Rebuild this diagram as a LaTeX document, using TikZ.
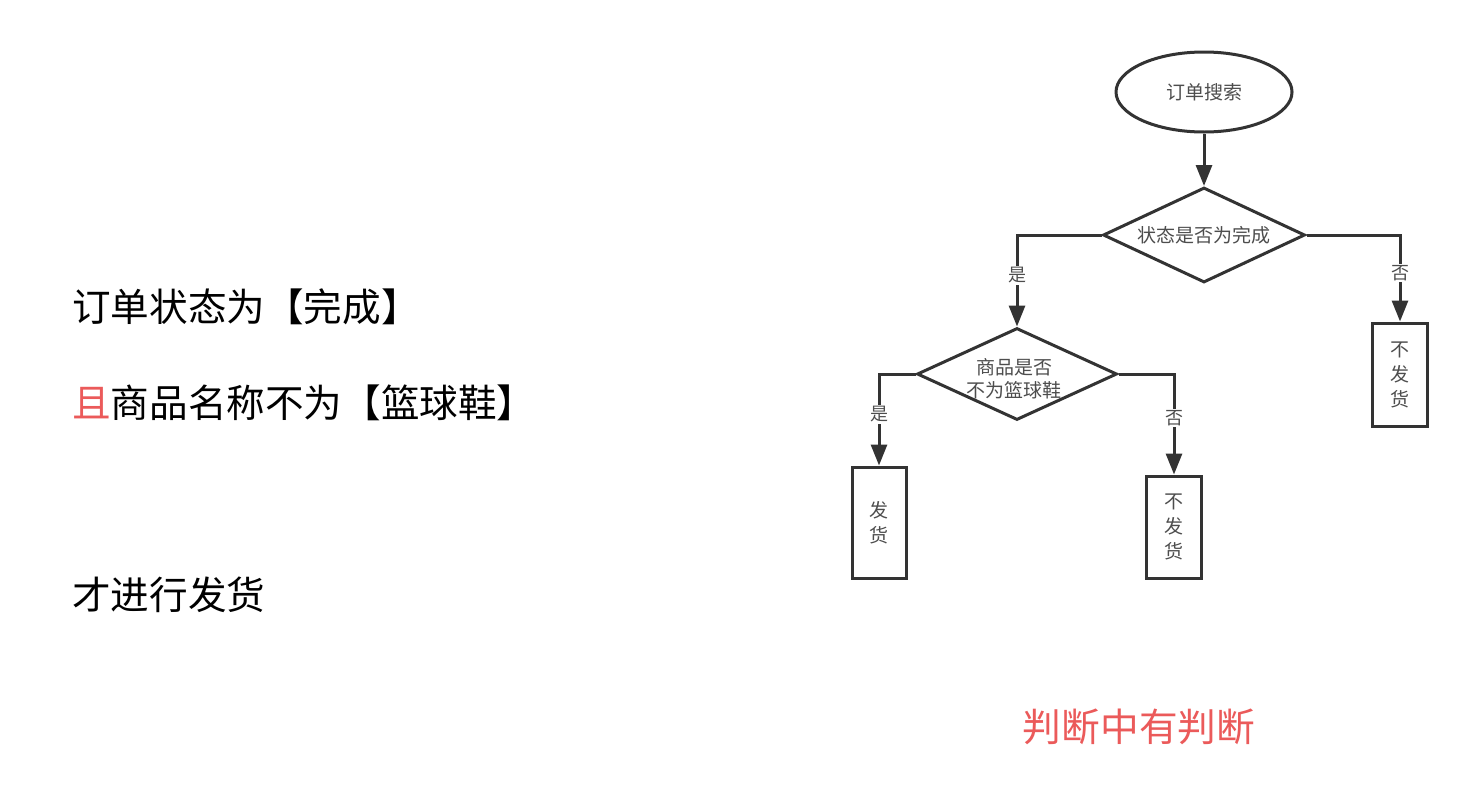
\documentclass[tikz,border=0pt]{standalone}
\usepackage{fontspec}
\setmainfont{Noto Sans CJK SC}
\usetikzlibrary{shapes.geometric,arrows.meta}
\definecolor{ln}{HTML}{333333}
\definecolor{tx}{HTML}{4D4D4D}
\definecolor{rd}{HTML}{EB5A5A}
\begin{document}
\begin{tikzpicture}[x=1pt,y=-1pt,
  shp/.style={draw=ln,line width=3pt,inner sep=0pt,fill=white},
  ftxt/.style={text=tx,font=\fontsize{19}{23}\selectfont,inner sep=0pt,align=center},
  vbox/.style={shp,rectangle,text=tx,font=\fontsize{19}{25}\selectfont,align=center},
  conn/.style={draw=ln,line width=3pt,-{Triangle[length=21pt,width=16pt]}},
  lbl/.style={fill=white,text=tx,font=\fontsize{18}{20}\selectfont,inner sep=1.5pt},
  big/.style={anchor=west,inner sep=0pt,font=\fontsize{38.6}{46}\selectfont}]
\useasboundingbox[fill=white] (0,0) rectangle (1479,790);

% left text
\node[big] (t1) at (72,307) {订单状态为【完成】};
\node[big] (t2) at (72,403) {\textcolor{rd}{且}商品名称不为【篮球鞋】};
\node[big] (t3) at (72,595) {才进行发货};
\node[inner sep=0pt,text=rd,font=\fontsize{38.7}{46}\selectfont] (t4) at (1139,727) {判断中有判断};

% flowchart
\node[shp,ellipse,minimum width=176pt,minimum height=80pt] (start) at (1204,92) {};
\node[ftxt] (starttxt) at (start.center) {订单搜索};
\node[shp,diamond,minimum width=202pt,minimum height=95pt] (d1) at (1204,235) {};
\node[ftxt] (d1txt) at (d1.center) {状态是否为完成};
\node[shp,diamond,minimum width=200pt,minimum height=92pt] (d2) at (1017,374) {};
\node[ftxt] (d2txt) at (1014,379) {商品是否\\不为篮球鞋};
\node[vbox,minimum width=55pt,minimum height=103pt] (nb1) at (1400,374.5) {不\\发\\货};
\node[vbox,minimum width=54pt,minimum height=111pt] (fh) at (879,522.5) {发\\货};
\node[vbox,minimum width=55pt,minimum height=102pt] (nb2) at (1174,527) {不\\发\\货};

\draw[conn] (start.south) -- (d1.north);
\draw[conn] (d1.west) -| node[lbl,pos=0.72] {是} (d2.north);
\draw[conn] (d1.east) -| node[lbl,pos=0.72] {否} (nb1.north);
\draw[conn] (d2.west) -| node[lbl,pos=0.72] {是} (fh.north);
\draw[conn] (d2.east) -| node[lbl,pos=0.72] {否} (nb2.north);
\end{tikzpicture}
\end{document}
